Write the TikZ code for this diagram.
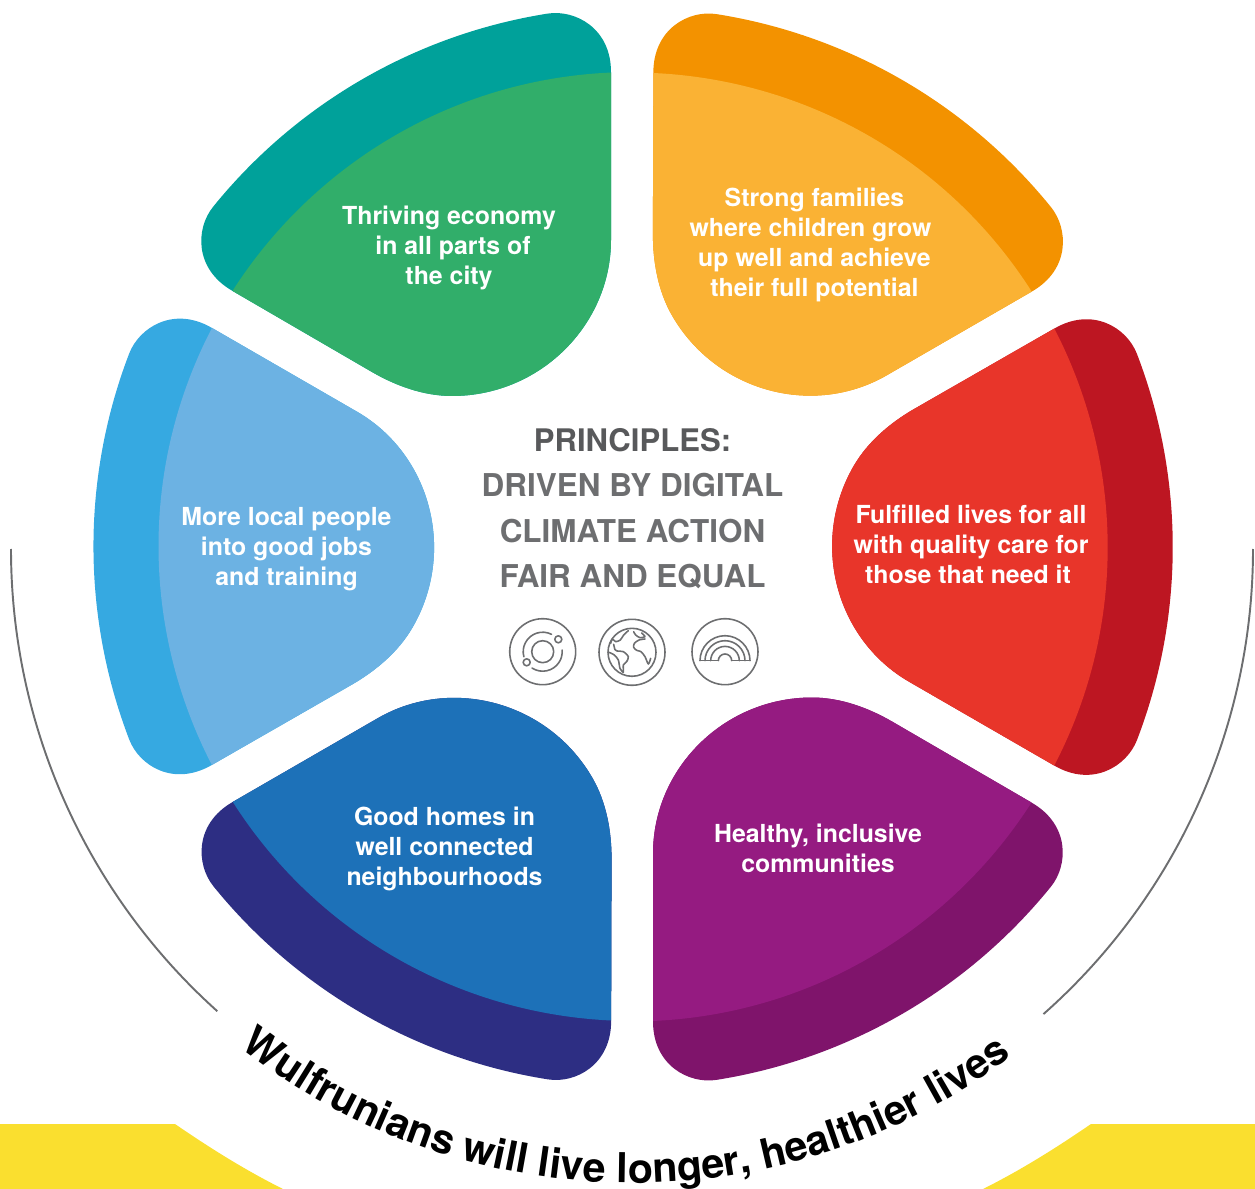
\documentclass[tikz,border=0pt]{standalone}
\usepackage{fontspec}
\setmainfont{TeX Gyre Heros}
\usetikzlibrary{decorations.text}
\definecolor{tealD}{HTML}{00A19A}\definecolor{greenL}{HTML}{31AE6A}
\definecolor{orangeD}{HTML}{F39200}\definecolor{orangeL}{HTML}{FAB234}
\definecolor{redD}{HTML}{BD1622}\definecolor{redL}{HTML}{E8352A}
\definecolor{purpD}{HTML}{7F146B}\definecolor{purpL}{HTML}{951B81}
\definecolor{navyD}{HTML}{2D2E83}\definecolor{navyL}{HTML}{1D71B8}
\definecolor{skyD}{HTML}{36A9E1}\definecolor{skyL}{HTML}{6CB2E3}
\definecolor{yel}{HTML}{FADF2F}
\definecolor{gA}{HTML}{58595B}\definecolor{gB}{HTML}{6D6E70}
\tikzset{
  label/.style={text=white,font=\bfseries\fontsize{14.15}{17}\selectfont,align=center,inner sep=0pt},
  icon/.style={draw=gB,line width=0.9pt,line join=round,line cap=round},
}
\newcommand{\petal}{(611,72) -- (611,72) .. controls (611,28) and (575,9.4) .. (547.7,13.6)
  .. controls (416.1,34.4) and (296.9,103.3) .. (213.1,206.8)
  .. controls (195.6,228.4) and (194,269) .. (232.6,291)
  -- (372,372) .. controls (395,385.3) and (423,396) .. (452,396)
  .. controls (540,396) and (611,325) .. (611,240) -- cycle}
\begin{document}
\begin{tikzpicture}[x=0.02cm,y=-0.02cm]
\useasboundingbox (0,0) rectangle (1255,1189);
% yellow bands
\fill[yel] (0,1124) -- (175,1124) .. controls (210,1148) and (245,1170) .. (283,1189) -- (0,1189) -- cycle;
\fill[yel] (1255,1124) -- (1091,1124) .. controls (1056,1148) and (1021,1170) .. (983,1189) -- (1255,1189) -- cycle;
% outer grey arcs
\begin{scope}[shift={(632,549)},x=0.02cm,y=0.02cm]
  \draw[gB,line width=1.1pt] (180:621) arc[start angle=180,end angle=228.1,radius=621];
  \draw[gB,line width=1.1pt] (-48.5:621) arc[start angle=-48.5,end angle=0,radius=621];
  \path[decorate,decoration={text along path,text align={align=center},
     text={|\bfseries\fontsize{23.4}{23}\selectfont|Wulfrunians will live longer, healthier lives}}]
     (230.3:634) arc[start angle=230.3,end angle=308.3,radius=634];
\end{scope}
% petals
\foreach \ang/\cd/\cl/\dx/\dy in {0/tealD/greenL/0/0,60/skyD/skyL/0.5/0.5,120/navyD/navyL/0.3/1,180/purpD/purpL/0/1.5,240/redD/redL/1.7/1,300/orangeD/orangeL/0.2/0.5}{
  \begin{scope}[shift={(\dx,\dy)},rotate around={\ang:(632,546)}]
    \fill[\cd] \petal;
    \begin{scope}
      \clip \petal;
      \fill[\cl] (632,546) circle (9.48cm);
    \end{scope}
  \end{scope}
}
% petal labels
\node[label] (economy) at (449,248) {Thriving economy\\\hspace*{0.16cm}in all parts of\\the city};
\node[label] (families) at (814.5,245) {Strong families\\\hspace*{-0.16cm}where children grow\\up well and achieve\\their full potential};
\node[label] (care) at (971,544) {Fulfilled lives for all\\with quality care for\\\hspace*{-0.12cm}those that need it};
\node[label] (healthy) at (818,848) {Healthy, inclusive\\communities};
\node[label] (homes) at (444.5,849) {Good homes in\\well connected\\neighbourhoods};
\node[label] (jobs) at (286.5,549) {More local people\\into good jobs\\and training};
% centre text
\node[font=\bfseries\fontsize{17.9}{25.8}\selectfont,text=gB,align=center,inner sep=0pt] (principles) at (632.5,508.5)
  {\textcolor{gA}{\fontsize{17.7}{25.8}\selectfont PRINCIPLES:}\\DRIVEN BY DIGITAL\\CLIMATE ACTION\\FAIR AND EQUAL};
% icon 1: orbit
\draw[icon] (542.7,651.7) circle (0.66cm);
\draw[icon] (542.7,651.7) circle (0.22cm);
\draw[icon] (558.3,639.3) circle (0.07cm);
\draw[icon] (526.7,662.3) circle (0.07cm);
\begin{scope}[shift={(542.7,651.7)},x=0.02cm,y=0.02cm]
  \draw[icon] (63:19.5) arc[start angle=63,end angle=195,radius=19.5];
  \draw[icon] (237:19.5) arc[start angle=237,end angle=365,radius=19.5];
\end{scope}
% icon 2: globe
\draw[icon] (632,652.3) circle (0.66cm);
\draw[icon] (632,652.3) circle (0.48cm);
\begin{scope}[shift={(595,615)},scale=0.3333]
  \draw[icon] plot[smooth,tension=0.45] coordinates {(100,47) (86,60) (76,75) (62,80) (52,72) (47,85)};
  \draw[icon] plot[smooth,tension=0.45] coordinates {(56,88) (60,104) (66,108) (85,110) (100,125) (95,140) (85,150) (85,172) (75,160) (70,135) (58,120) (42,112)};
  \draw[icon] plot[smooth,tension=0.45] coordinates {(116,50) (122,60) (135,68) (150,65) (140,54)};
  \draw[icon] plot[smooth,tension=0.45] coordinates {(150,72) (132,75) (118,85) (116,97) (125,106) (138,110) (150,125) (160,147) (167,130)};
\end{scope}
% icon 3: rainbow
\draw[icon] (725,651.7) circle (0.66cm);
\begin{scope}[shift={(725,660.7)},x=0.02cm,y=0.02cm]
  \foreach \r in {25,20,14.3,6.7}{
    \draw[icon] (180:\r) arc[start angle=180,end angle=0,radius=\r];
  }
  \draw[icon] (-25,0) -- (-6.7,0);
  \draw[icon] (6.7,0) -- (25,0);
\end{scope}
\end{tikzpicture}
\end{document}
